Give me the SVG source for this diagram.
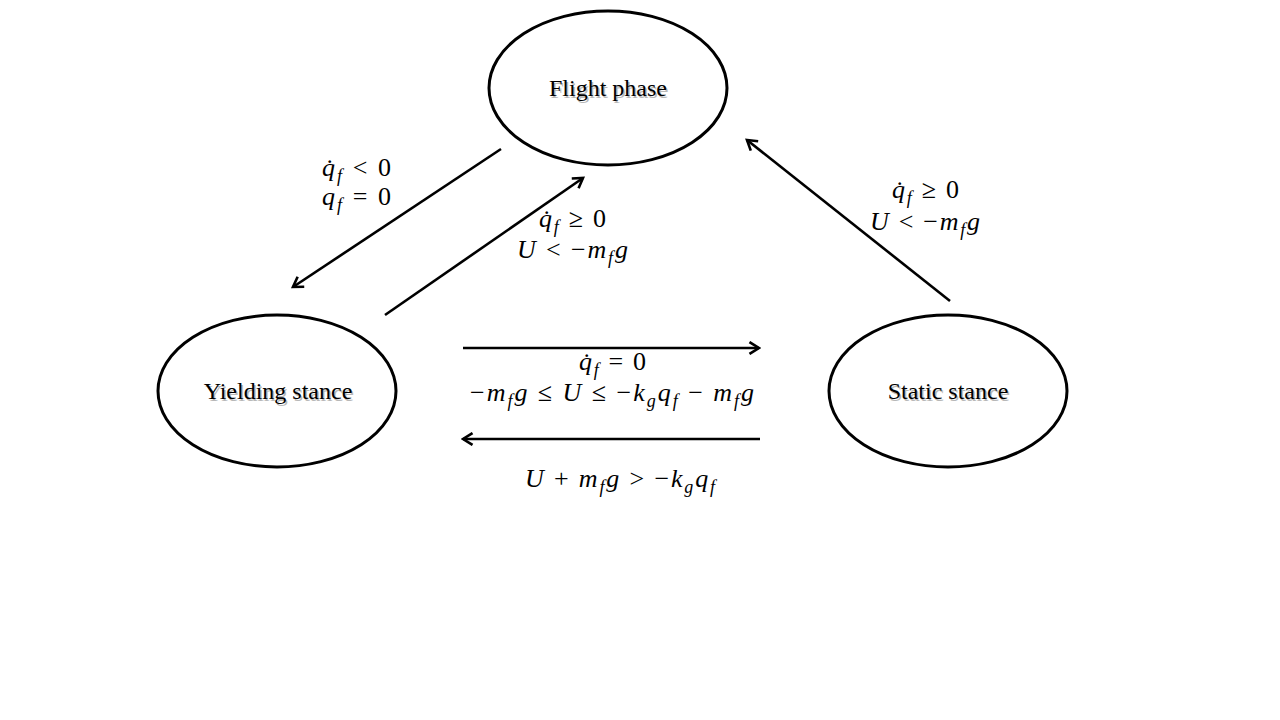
<svg xmlns="http://www.w3.org/2000/svg" width="1280" height="720" viewBox="0 0 1280 720">
<style>
.node{fill:#fff;stroke:#000;stroke-width:3}
.lbl{font-family:"Liberation Serif","Times New Roman",serif;font-size:24px;fill:#000;text-anchor:middle}
.sh{fill:#b8b8b8}
.math{font-family:"Liberation Serif","DejaVu Serif",serif;font-style:italic;font-size:26px;fill:#000}
.up{font-style:normal}
.sub{font-size:18px}
.edge{stroke:#000;stroke-width:2.6;fill:none;marker-end:url(#ah)}
</style>
<defs>
<marker id="ah" viewBox="0 0 12 12" refX="10" refY="6" markerWidth="5.5" markerHeight="5.5" orient="auto" markerUnits="strokeWidth">
<path d="M2,1 L10,6 L2,11" fill="none" stroke="#000" stroke-width="2.2"/>
</marker>
</defs>
<rect width="1280" height="720" fill="#fff"/>
<g id="flight">
<ellipse class="node" cx="608" cy="88" rx="119" ry="77"/>
<text class="lbl sh" x="609.5" y="97.5">Flight phase</text>
<text class="lbl" x="608" y="96">Flight phase</text>
</g>
<g id="yielding">
<ellipse class="node" cx="277" cy="391" rx="119" ry="76"/>
<text class="lbl sh" x="279.5" y="400.5">Yielding stance</text>
<text class="lbl" x="278" y="399">Yielding stance</text>
</g>
<g id="static">
<ellipse class="node" cx="948" cy="391" rx="119" ry="76"/>
<text class="lbl sh" x="949.5" y="400.5">Static stance</text>
<text class="lbl" x="948" y="399">Static stance</text>
</g>
<g id="connectors">
<line class="edge" x1="501" y1="149" x2="293" y2="287"/>
<line class="edge" x1="385" y1="315" x2="583" y2="178"/>
<line class="edge" x1="950" y1="301" x2="747" y2="140"/>
<line class="edge" x1="463" y1="348" x2="759" y2="348"/>
<line class="edge" x1="760" y1="439" x2="463" y2="439"/>
</g>
<g id="labels">
<text class="math" x="322" y="176" textLength="69" lengthAdjust="spacing">q̇<tspan class="sub" dy="6">f</tspan><tspan dy="-6" class="up"> &lt; 0</tspan></text>
<text class="math" x="322" y="205" textLength="69" lengthAdjust="spacing">q<tspan class="sub" dy="6">f</tspan><tspan dy="-6" class="up"> = 0</tspan></text>
<text class="math" x="539" y="227" textLength="67" lengthAdjust="spacing">q̇<tspan class="sub" dy="6">f</tspan><tspan dy="-6" class="up"> ≥ 0</tspan></text>
<text class="math" x="517" y="258" textLength="111" lengthAdjust="spacing">U<tspan class="up"> &lt; −</tspan>m<tspan class="sub" dy="6">f</tspan><tspan dy="-6">g</tspan></text>
<text class="math" x="892" y="198" textLength="67" lengthAdjust="spacing">q̇<tspan class="sub" dy="6">f</tspan><tspan dy="-6" class="up"> ≥ 0</tspan></text>
<text class="math" x="870" y="230" textLength="110" lengthAdjust="spacing">U<tspan class="up"> &lt; −</tspan>m<tspan class="sub" dy="6">f</tspan><tspan dy="-6">g</tspan></text>
<text class="math" x="579" y="370" textLength="67" lengthAdjust="spacing">q̇<tspan class="sub" dy="6">f</tspan><tspan dy="-6" class="up"> = 0</tspan></text>
<text class="math" x="470" y="401" textLength="284" lengthAdjust="spacing"><tspan class="up">−</tspan>m<tspan class="sub" dy="6">f</tspan><tspan dy="-6">g</tspan><tspan class="up"> ≤ </tspan>U<tspan class="up"> ≤ −</tspan>k<tspan class="sub" dy="6">g</tspan><tspan dy="-6">q</tspan><tspan class="sub" dy="6">f</tspan><tspan dy="-6" class="up"> − </tspan>m<tspan class="sub" dy="6">f</tspan><tspan dy="-6">g</tspan></text>
<text class="math" x="525" y="487" textLength="190" lengthAdjust="spacing">U<tspan class="up"> + </tspan>m<tspan class="sub" dy="6">f</tspan><tspan dy="-6">g</tspan><tspan class="up"> &gt; −</tspan>k<tspan class="sub" dy="6">g</tspan><tspan dy="-6">q</tspan><tspan class="sub" dy="6">f</tspan></text>
</g>
</svg>
